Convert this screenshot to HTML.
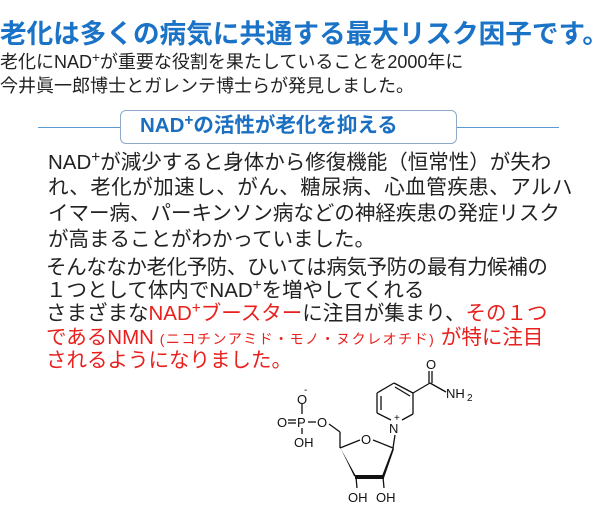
<!DOCTYPE html>
<html><head><meta charset="utf-8"><style>
body{margin:0;width:600px;height:514px;background:#fff;position:relative;overflow:hidden;font-family:"Liberation Sans","Noto Sans CJK JP",sans-serif}
.t{position:absolute;white-space:nowrap;line-height:1}
.title{left:0;top:21px;font-size:26.6px;font-weight:bold;color:#1a73c6}
.sub{left:0;font-size:18px;color:#222}
.b{left:48px;font-size:20.5px;color:#222}
.r{color:#e8201e}
sup{font-size:75%;vertical-align:0;position:relative;top:-0.45em}
</style></head><body>
<div class="t title">老化は多くの病気に共通する最大リスク因子です。</div>
<div class="t sub" style="top:53px">老化にNAD<sup>+</sup>が重要な役割を果たしていることを2000年に</div>
<div class="t sub" style="top:77px">今井眞一郎博士とガレンテ博士らが発見しました。</div>
<div style="position:absolute;left:38px;top:127px;width:82px;height:1px;background:#5b9bd5"></div>
<div style="position:absolute;left:457px;top:127px;width:102px;height:1px;background:#5b9bd5"></div>
<div style="position:absolute;left:120px;top:110px;width:335px;height:32px;border:1px solid #8fa9c8;border-radius:6px;background:#fff"></div>
<div class="t" style="left:140px;top:116px;font-size:20.5px;font-weight:bold;color:#1a6fc0">NAD<sup>+</sup>の活性が老化を抑える</div>
<div class="t b" style="top:153px">NAD<sup>+</sup>が減少すると身体から修復機能（恒常性）が失わ</div>
<div class="t b" style="top:178px;letter-spacing:0.5px">れ、老化が加速し、がん、糖尿病、心血管疾患、アルハ</div>
<div class="t b" style="top:204px">イマー病、パーキンソン病などの神経疾患の発症リスク</div>
<div class="t b" style="top:230px">が高まることがわかっていました。</div>
<div class="t b" style="top:258px;left:46px;letter-spacing:-0.4px">そんななか老化予防、ひいては病気予防の最有力候補の</div>
<div class="t b" style="top:281px;left:46px">１つとして体内でNAD<sup>+</sup>を増やしてくれる</div>
<div class="t b" style="top:304px;left:46px">さまざまな<span class="r">NAD<sup>+</sup>ブースター</span>に注目が集まり、<span class="r">その１つ</span></div>
<div class="t b r" style="top:328px;left:46px">であるNMN <span style="font-size:14px;letter-spacing:1.5px">(ニコチンアミド・モノ・ヌクレオチド)</span> が特に注目</div>
<div class="t b r" style="top:351px;left:46px">されるようになりました。</div>
<svg width="600" height="514" style="position:absolute;left:0;top:0" font-family="Liberation Sans,sans-serif" font-size="13" fill="#111">
<g stroke="#111" stroke-width="1.3" fill="none">
<line x1="302" y1="404" x2="302" y2="414"/>
<line x1="288" y1="420" x2="296" y2="420"/><line x1="288" y1="423" x2="296" y2="423"/>
<line x1="308" y1="422" x2="316" y2="422"/>
<line x1="302" y1="428" x2="302" y2="434"/>
<line x1="329" y1="424" x2="340" y2="432"/>
<line x1="340" y1="432" x2="340" y2="448"/>
<line x1="340" y1="448" x2="360" y2="440"/>
<line x1="373" y1="440" x2="393" y2="448"/>
<line x1="393" y1="448" x2="395" y2="435"/>
<line x1="383" y1="477" x2="384" y2="488"/>
<line x1="356" y1="477" x2="357" y2="488"/>
<line x1="391" y1="420" x2="377" y2="413"/>
<line x1="377" y1="413" x2="377" y2="393"/>
<line x1="381" y1="410" x2="381" y2="396"/>
<line x1="377" y1="393" x2="394" y2="383"/>
<line x1="394" y1="383" x2="413" y2="393"/>
<line x1="395" y1="387" x2="410" y2="396"/>
<line x1="413" y1="393" x2="413" y2="414"/>
<line x1="413" y1="414" x2="402" y2="420"/>
<line x1="413" y1="393" x2="430" y2="383"/>
<line x1="429" y1="383" x2="429" y2="371"/><line x1="432" y1="383" x2="432" y2="371"/>
<line x1="430" y1="383" x2="446" y2="392"/>
</g>
<polygon points="340,447 341,449 357,478 354,476" fill="#111"/>
<polygon points="393,447 394,449 384,478 382,476" fill="#111"/>
<polygon points="355,475 384,475 384,479 355,479" fill="#111"/>
<text x="297" y="404">O</text><text x="304" y="393" font-size="10">-</text>
<text x="297" y="427">P</text>
<text x="277" y="427">O</text>
<text x="317" y="427">O</text>
<text x="294" y="447">OH</text>
<text x="361" y="444">O</text>
<text x="389" y="433">N</text><text x="394" y="421" font-size="10">+</text>
<text x="426" y="369">O</text>
<text x="446" y="398">NH</text><text x="467" y="401" font-size="10">2</text>
<text x="348" y="502">OH</text>
<text x="376" y="502">OH</text>
</svg>
</body></html>
